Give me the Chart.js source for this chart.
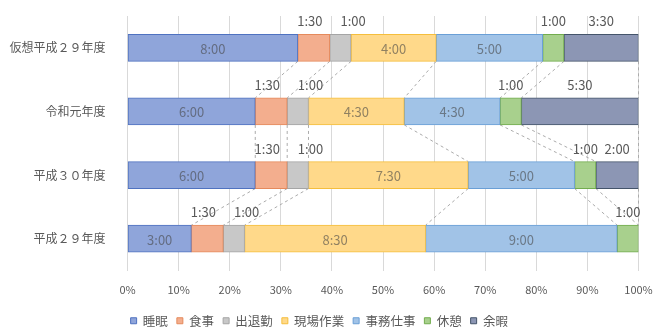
<!DOCTYPE html>
<html>
<head>
<meta charset="utf-8">
<script src="https://cdn.jsdelivr.net/npm/chart.js@4.4.1/dist/chart.umd.min.js"></script>
<style>
  html, body { margin: 0; padding: 0; background: #ffffff; overflow: hidden; }
  #wrap { width: 653px; height: 329px; position: relative; }
</style>
</head>
<body>
<div id="wrap"><canvas id="c"></canvas></div>
<script>
// Daily time budget (hours) per scenario
const categories = ['仮想平成２９年度', '令和元年度', '平成３０年度', '平成２９年度'];
const seriesNames = ['睡眠', '食事', '出退勤', '現場作業', '事務仕事', '休憩', '余暇'];

const sleepHours   = [8,   6,   6,   3];
const mealHours    = [1.5, 1.5, 1.5, 1.5];
const commuteHours = [1,   1,   1,   1];
const fieldHours   = [4,   4.5, 7.5, 8.5];
const officeHours  = [5,   4.5, 5,   9];
const restHours    = [1,   1,   1,   1];
const leisureHours = [3.5, 5.5, 2,   0];

const xTickValues = [0, 10, 20, 30, 40, 50, 60, 70, 80, 90, 100];

const hoursBySeries = [sleepHours, mealHours, commuteHours, fieldHours, officeHours, restHours, leisureHours];

const fills   = ['#8FA5DA', '#F3AE8E', '#C8C8C8', '#FFD98A', '#A1C3E7', '#A8D08D', '#8C96B4'];
const borders = ['#4F72C0', '#E58A5C', '#A5A5A5', '#F5BE3C', '#6A9FD6', '#72AC4E', '#44546A'];

// where each series puts its duration text
const labelPlacement = ['inside', 'above', 'aboveEnd', 'inside', 'inside', 'above', 'above'];

const FONT = "'Noto Sans CJK JP', 'Noto Sans', sans-serif";
const TEXT = '#595959';

// 100% stacking: share of the day for every segment
const dayTotals = categories.map((_, i) => hoursBySeries.reduce((s, arr) => s + arr[i], 0));

function fmtHours(h) {
  const hh = Math.floor(h);
  const mm = Math.round((h - hh) * 60);
  return hh + ':' + String(mm).padStart(2, '0');
}

const datasets = seriesNames.map((name, di) => ({
  label: name,
  data: hoursBySeries[di].map((h, i) => h / dayTotals[i] * 100),
  backgroundColor: fills[di],
  borderColor: borders[di],
  borderWidth: 1,
  borderSkipped: false,
  barThickness: 27
}));

// dashed connectors between matching segment ends of neighbouring bars
const seriesLines = {
  id: 'seriesLines',
  beforeDatasetsDraw(chart) {
    const ctx = chart.ctx;
    ctx.save();
    ctx.strokeStyle = '#ABABAB';
    ctx.lineWidth = 1;
    ctx.setLineDash([3, 3]);
    chart.data.datasets.forEach((ds, di) => {
      const meta = chart.getDatasetMeta(di);
      for (let i = 0; i < meta.data.length - 1; i++) {
        const a = meta.data[i].getProps(['x', 'y', 'height'], true);
        const b = meta.data[i + 1].getProps(['x', 'y', 'height'], true);
        ctx.beginPath();
        ctx.moveTo(a.x, a.y + a.height / 2);
        ctx.lineTo(b.x, b.y - b.height / 2);
        ctx.stroke();
      }
    });
    ctx.restore();
  }
};

// h:mm labels on or above each segment
const timeLabels = {
  id: 'timeLabels',
  afterDatasetsDraw(chart) {
    const ctx = chart.ctx;
    ctx.save();
    ctx.font = '13px ' + FONT;
    ctx.textAlign = 'center';
    ctx.textBaseline = 'middle';
    chart.data.datasets.forEach((ds, di) => {
      const meta = chart.getDatasetMeta(di);
      meta.data.forEach((el, i) => {
        const h = hoursBySeries[di][i];
        if (!h) return;
        const p = el.getProps(['x', 'y', 'base', 'height'], true);
        const left = Math.min(p.x, p.base), right = Math.max(p.x, p.base);
        const txt = fmtHours(h);
        const place = labelPlacement[di];
        if (place === 'inside') {
          ctx.fillStyle = 'rgba(70,70,70,0.6)';
          ctx.fillText(txt, (left + right) / 2, p.y + 1);
        } else {
          ctx.fillStyle = TEXT;
          let x = (left + right) / 2;
          if (place === 'aboveEnd') x = right + 2;
          else if (di === 1) x -= 4;
          ctx.fillText(txt, x, p.y - p.height / 2 - 13);
        }
      });
    });
    ctx.restore();
  }
};

// nudge the legend row down toward the bottom edge
const legendNudge = {
  id: 'legendNudge',
  afterLayout(chart) {
    if (chart.legend) {
      chart.legend.top += 8;
      chart.legend.bottom += 8;
    }
  }
};

new Chart(document.getElementById('c'), {
  type: 'bar',
  data: { labels: categories, datasets },
  plugins: [seriesLines, timeLabels, legendNudge],
  options: {
    indexAxis: 'y',
    responsive: true,
    maintainAspectRatio: false,
    animation: false,
    layout: { autoPadding: false, padding: { left: 0, right: 14.5, top: 16, bottom: 0 } },
    scales: {
      x: {
        stacked: true,
        min: 0,
        max: 100,
        afterBuildTicks(scale) { scale.ticks = xTickValues.map(v => ({ value: v })); },
        afterFit(scale) {
          scale.height = 27;
          scale.paddingLeft = 0;
          scale.paddingRight = 0;
        },
        grid: { color: '#D9D9D9', lineWidth: 1, drawTicks: false },
        border: { display: false },
        ticks: {
          color: TEXT,
          font: { family: FONT, size: 11 },
          padding: 13,
          maxRotation: 0,
          callback: v => v + '%'
        }
      },
      y: {
        stacked: true,
        afterFit(scale) {
          scale.width = 127.5;
          scale.paddingTop = 0;
          scale.paddingBottom = 0;
        },
        grid: { display: false },
        border: { display: false },
        ticks: { color: TEXT, font: { family: FONT, size: 12 }, padding: 14 }
      }
    },
    plugins: {
      tooltip: { enabled: false },
      legend: {
        position: 'bottom',
        labels: {
          color: TEXT,
          font: { family: FONT, size: 12.5 },
          boxWidth: 6,
          boxHeight: 6,
          padding: 9
        }
      }
    }
  }
});
</script>
</body>
</html>
